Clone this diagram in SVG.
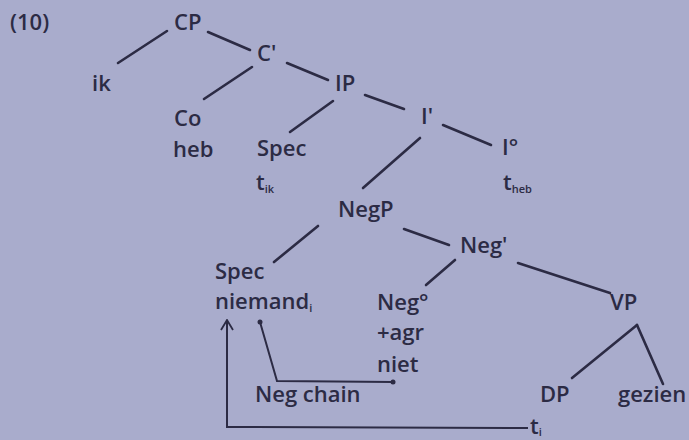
<svg xmlns="http://www.w3.org/2000/svg" width="689" height="440" viewBox="0 0 689 440">
<style>
text{font-family:"Open Sans","Noto Sans",sans-serif;font-size:22px;font-weight:600;fill:#2c2b44}
.s{font-size:11px}
.e{stroke:#2c2b44;stroke-width:2.6;fill:none;stroke-linecap:round}
.c{stroke:#2c2b44;stroke-width:2;fill:none}
</style>
<defs>
<marker id="ah" viewBox="0 0 12 14" refX="11" refY="7" markerWidth="12" markerHeight="14" markerUnits="userSpaceOnUse" orient="auto">
<path d="M1,1 L11,7 L1,13" fill="none" stroke="#2c2b44" stroke-width="1.8"/>
</marker>
</defs>
<rect width="689" height="440" fill="#a9accc"/>
<text x="10" y="30">(10)</text>
<g id="cp"><text x="174" y="30">CP</text></g>
<g id="c1"><text x="257" y="61">C'</text></g>
<g id="ik"><text x="92" y="91">ik</text></g>
<g id="ip"><text x="335" y="91">IP</text></g>
<g id="co"><text x="174" y="126">Co</text><text x="173" y="157">heb</text></g>
<g id="i1"><text x="421" y="124">I'</text></g>
<g id="spec1"><text x="257" y="156">Spec</text><text x="256" y="190">t<tspan class="s" dy="3">ik</tspan></text></g>
<g id="i0"><text x="502" y="155">I°</text><text x="503" y="190">t<tspan class="s" dy="3">heb</tspan></text></g>
<g id="negp"><text x="338" y="217">NegP</text></g>
<g id="neg1"><text x="460" y="253">Neg'</text></g>
<g id="spec2"><text x="215" y="279">Spec</text><text x="215" y="309">niemand<tspan class="s" dy="3">i</tspan></text></g>
<g id="neg0"><text x="377" y="310">Neg°</text><text x="377" y="340">+agr</text><text x="377" y="372">niet</text></g>
<g id="vp"><text x="610" y="310">VP</text></g>
<g id="dp"><text x="540" y="402">DP</text></g>
<g id="gezien"><text x="618" y="402">gezien</text></g>
<g id="negchain"><text x="255" y="402">Neg chain</text></g>
<g id="ti"><text x="530" y="434">t<tspan class="s" dy="2">i</tspan></text></g>
<g id="connectors">
<path class="e" d="M167,31 L118,63"/>
<path class="e" d="M208,32 L250,50"/>
<path class="e" d="M252,67 L204,99"/>
<path class="e" d="M287,63 L328,80"/>
<path class="e" d="M333,101 L290,132"/>
<path class="e" d="M365,95 L404,109"/>
<path class="e" d="M443,125 L491,145"/>
<path class="e" d="M420,138 L363,188"/>
<path class="e" d="M318,226 L274,262"/>
<path class="e" d="M404,229 L449,245"/>
<path class="e" d="M455,260 L426,285"/>
<path class="e" d="M518,263 L610,293"/>
<path class="e" d="M637,325 L572,378"/>
<path class="e" d="M637,325 L663,384"/>
<path class="c" d="M260,322 L277,381 L393,382"/>
<circle cx="260" cy="322" r="2.5" fill="#2c2b44"/>
<circle cx="393" cy="382" r="2.5" fill="#2c2b44"/>
<path class="c" d="M528,428 L227,427 L227,320" marker-end="url(#ah)"/>
</g>
</svg>
